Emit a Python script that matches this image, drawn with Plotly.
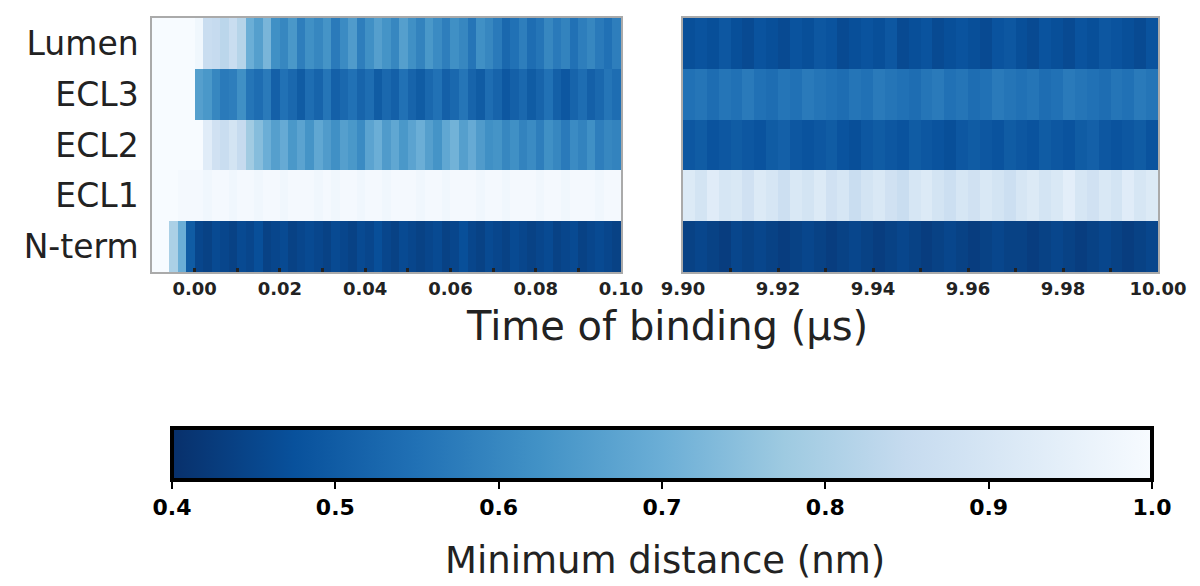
import numpy as np
import plotly.graph_objects as go
import plotly.express as px

regions = ["N-term", "ECL1", "ECL2", "ECL3", "Lumen"]

# Left window: -0.010 .. 0.100 µs, frames of 0.002 µs (centres)
t_left = np.round(-0.009 + 0.002 * np.arange(55), 4)
# Right window: 9.90 .. 10.00 µs, frames of 0.0025 µs (centres)
t_right = np.round(9.90125 + 0.0025 * np.arange(40), 5)

lumen_left = [1.0, 1.0, 1.0, 1.0, 1.0, 0.98, 0.86, 0.85, 0.83, 0.86,
              0.82, 0.70, 0.66, 0.72, 0.62, 0.60, 0.64, 0.58, 0.62, 0.60,
              0.63, 0.57, 0.61, 0.65, 0.58, 0.62, 0.66, 0.63, 0.60, 0.66,
              0.62, 0.59, 0.64, 0.61, 0.58, 0.62, 0.60, 0.56, 0.62, 0.60,
              0.57, 0.53, 0.55, 0.58, 0.54, 0.56, 0.60, 0.57, 0.59, 0.55,
              0.58, 0.60, 0.57, 0.55, 0.58]
ecl3_left = [1.0, 1.0, 1.0, 1.0, 1.0, 0.66, 0.64, 0.60, 0.57, 0.58,
             0.62, 0.56, 0.54, 0.57, 0.51, 0.55, 0.53, 0.50, 0.54, 0.52,
             0.56, 0.51, 0.53, 0.55, 0.52, 0.54, 0.50, 0.53, 0.51, 0.55,
             0.52, 0.50, 0.53, 0.55, 0.51, 0.53, 0.56, 0.52, 0.50, 0.54,
             0.52, 0.49, 0.51, 0.53, 0.50, 0.52, 0.55, 0.51, 0.49, 0.52,
             0.54, 0.51, 0.53, 0.56, 0.54]
ecl2_left = [1.0, 1.0, 1.0, 1.0, 1.0, 1.0, 0.93, 0.88, 0.86, 0.89,
             0.85, 0.78, 0.74, 0.70, 0.66, 0.69, 0.64, 0.67, 0.63, 0.68,
             0.65, 0.62, 0.66, 0.64, 0.61, 0.67, 0.70, 0.65, 0.68, 0.64,
             0.67, 0.70, 0.66, 0.63, 0.68, 0.71, 0.66, 0.69, 0.65, 0.62,
             0.63, 0.60, 0.62, 0.59, 0.61, 0.58, 0.62, 0.60, 0.57, 0.61,
             0.59, 0.62, 0.58, 0.60, 0.59]
ecl1_left = [1.0, 1.0, 1.0, 0.99, 0.99, 0.99, 0.98, 0.99, 0.99, 0.98,
             0.99, 0.99, 0.98, 0.99, 0.99, 0.98, 0.99, 0.99, 0.99, 0.98,
             0.99, 0.98, 0.99, 0.99, 0.98, 0.99, 0.99, 0.98, 0.99, 0.99,
             0.99, 0.98, 0.99, 0.99, 0.98, 0.99, 0.99, 0.99, 0.98, 0.99,
             0.99, 0.98, 0.99, 0.99, 0.99, 0.98, 0.99, 0.99, 0.98, 0.99,
             0.99, 0.99, 0.98, 0.99, 0.99]
nterm_left = [1.0, 1.0, 0.80, 0.70, 0.50, 0.45, 0.44, 0.46, 0.45, 0.44,
              0.46, 0.45, 0.47, 0.44, 0.45, 0.46, 0.44, 0.45, 0.46, 0.45,
              0.44, 0.46, 0.45, 0.44, 0.46, 0.45, 0.47, 0.45, 0.44, 0.46,
              0.45, 0.44, 0.45, 0.46, 0.44, 0.45, 0.47, 0.45, 0.44, 0.46,
              0.45, 0.44, 0.46, 0.45, 0.44, 0.45, 0.46, 0.44, 0.45, 0.46,
              0.44, 0.45, 0.46, 0.45, 0.44]

lumen_right = [0.47, 0.48, 0.47, 0.49, 0.47, 0.46, 0.48, 0.47, 0.46, 0.48,
               0.47, 0.49, 0.48, 0.46, 0.47, 0.48, 0.47, 0.49, 0.46, 0.47,
               0.48, 0.46, 0.47, 0.48, 0.47, 0.46, 0.48, 0.49, 0.47, 0.46,
               0.48, 0.47, 0.46, 0.48, 0.47, 0.49, 0.48, 0.47, 0.46, 0.48]
ecl3_right = [0.55, 0.56, 0.54, 0.56, 0.55, 0.57, 0.55, 0.54, 0.56, 0.55,
              0.57, 0.56, 0.55, 0.54, 0.56, 0.55, 0.57, 0.56, 0.55, 0.54,
              0.56, 0.57, 0.55, 0.56, 0.54, 0.55, 0.57, 0.56, 0.55, 0.56,
              0.54, 0.55, 0.57, 0.56, 0.55, 0.54, 0.56, 0.55, 0.57, 0.56]
ecl2_right = [0.49, 0.50, 0.48, 0.49, 0.50, 0.49, 0.48, 0.50, 0.51, 0.49,
              0.48, 0.49, 0.50, 0.48, 0.47, 0.49, 0.50, 0.49, 0.48, 0.50,
              0.49, 0.48, 0.47, 0.49, 0.50, 0.49, 0.48, 0.50, 0.49, 0.48,
              0.50, 0.49, 0.48, 0.50, 0.51, 0.49, 0.48, 0.49, 0.50, 0.48]
ecl1_right = [0.92, 0.89, 0.93, 0.90, 0.91, 0.88, 0.92, 0.90, 0.87, 0.91,
              0.89, 0.92, 0.88, 0.90, 0.86, 0.89, 0.91, 0.88, 0.86, 0.90,
              0.92, 0.89, 0.87, 0.90, 0.88, 0.91, 0.89, 0.87, 0.90, 0.92,
              0.89, 0.91, 0.94, 0.90, 0.88, 0.91, 0.89, 0.93, 0.90, 0.92]
nterm_right = [0.44, 0.45, 0.44, 0.43, 0.45, 0.44, 0.45, 0.44, 0.43, 0.44,
               0.45, 0.44, 0.43, 0.44, 0.45, 0.44, 0.43, 0.44, 0.45, 0.44,
               0.43, 0.44, 0.45, 0.44, 0.43, 0.44, 0.45, 0.44, 0.44, 0.43,
               0.44, 0.45, 0.44, 0.43, 0.44, 0.45, 0.44, 0.43, 0.44, 0.45]

z_left = [nterm_left, ecl1_left, ecl2_left, ecl3_left, lumen_left]
z_right = [nterm_right, ecl1_right, ecl2_right, ecl3_right, lumen_right]

left_tickvals = [round(0.01 * k, 2) for k in range(11)]
left_ticktext = [f"{v:.2f}" if k % 2 == 0 else "" for k, v in enumerate(left_tickvals)]
right_tickvals = [round(9.90 + 0.01 * k, 2) for k in range(11)]
right_ticktext = [f"{v:.2f}" if k % 2 == 0 else "" for k, v in enumerate(right_tickvals)]

cbar_ticks = [0.4, 0.5, 0.6, 0.7, 0.8, 0.9, 1.0]

W, H = 1200, 586
colorscale = px.colors.sequential.Blues_r
FONT = "DejaVu Sans"

fig = go.Figure()
fig.add_trace(go.Heatmap(
    x=t_left, y=regions, z=z_left, xaxis="x", yaxis="y",
    colorscale=colorscale, zmin=0.4, zmax=1.0, showscale=True,
    colorbar=dict(
        orientation="h", x=662 / W, xanchor="center", y=1 - 428 / H, yanchor="top",
        len=980 / W, lenmode="fraction", thickness=52, xpad=0, ypad=0,
        outlinewidth=4, outlinecolor="black",
        tickvals=cbar_ticks, ticktext=[f"{v:.1f}" for v in cbar_ticks],
        ticks="outside", ticklen=7, tickwidth=2, tickcolor="black",
        tickfont=dict(family=FONT, size=22, color="black", weight="bold"),
    ),
))
fig.add_trace(go.Heatmap(
    x=t_right, y=regions, z=z_right, xaxis="x2", yaxis="y2",
    colorscale=colorscale, zmin=0.4, zmax=1.0, showscale=False,
))

axis_common = dict(showline=True, linecolor="#aaaaaa", linewidth=1.5, mirror=True,
                   showgrid=False, zeroline=False, automargin=False)
ydom = [1 - 272 / H, 1 - 18 / H]
fig.update_layout(
    template="none",
    width=W, height=H, margin=dict(l=0, r=0, t=0, b=0, autoexpand=False),
    paper_bgcolor="white", plot_bgcolor="white",
    font=dict(family=FONT, color="#222"),
    xaxis=dict(domain=[152 / W, 621 / W], range=[-0.010, 0.100],
               tickvals=left_tickvals, ticktext=left_ticktext,
               ticks="inside", ticklen=4, tickwidth=3, tickcolor="#222",
               tickfont=dict(family=FONT, size=18, color="#222", weight="bold"),
               **axis_common),
    yaxis=dict(domain=ydom, ticks="", ticklabelstandoff=5,
               tickfont=dict(family=FONT, size=33, color="#222"),
               **axis_common),
    xaxis2=dict(domain=[683 / W, 1158 / W], range=[9.90, 10.00], anchor="y2",
                tickvals=right_tickvals, ticktext=right_ticktext,
                ticks="inside", ticklen=4, tickwidth=3, tickcolor="#222",
                tickfont=dict(family=FONT, size=18, color="#222", weight="bold"),
                **axis_common),
    yaxis2=dict(domain=ydom, anchor="x2", showticklabels=False, ticks="",
                **axis_common),
    annotations=[
        dict(text="Time of binding (µs)", x=667 / W, y=1 - 326 / H,
             xref="paper", yref="paper", showarrow=False,
             xanchor="center", yanchor="middle",
             font=dict(family=FONT, size=40, color="#222")),
        dict(text="Minimum distance (nm)", x=665 / W, y=1 - 560 / H,
             xref="paper", yref="paper", showarrow=False,
             xanchor="center", yanchor="middle",
             font=dict(family=FONT, size=37, color="#222")),
    ],
)

fig.write_html("out.html")
